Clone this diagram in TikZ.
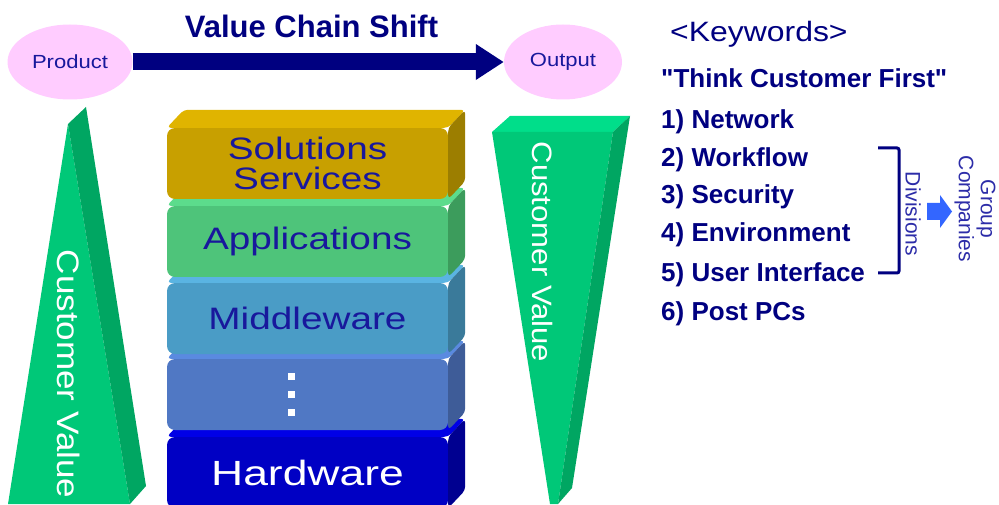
\documentclass[tikz,border=0pt]{standalone}
\usepackage{fontspec}
\setmainfont{Liberation Sans}[Ligatures=TeXOff]
\usetikzlibrary{shapes.geometric}
\usetikzlibrary{arrows.meta}
\usepackage{xcolor}

\definecolor{navy}{RGB}{0,0,128}
\definecolor{layertext}{RGB}{24,24,156}
\definecolor{sidetext}{RGB}{44,44,168}
\definecolor{bubblepink}{RGB}{255,204,255}
\definecolor{shiftblue}{RGB}{51,102,255}
\definecolor{cvfront}{RGB}{0,200,120}
\definecolor{cvtop}{RGB}{0,222,138}
\definecolor{cvside}{RGB}{0,166,98}
\definecolor{sol-front}{RGB}{200,160,0}
\definecolor{sol-top}{RGB}{224,180,0}
\definecolor{sol-side}{RGB}{156,126,0}
\definecolor{app-front}{RGB}{78,196,122}
\definecolor{app-top}{RGB}{92,220,140}
\definecolor{app-side}{RGB}{60,156,92}
\definecolor{mw-front}{RGB}{74,156,198}
\definecolor{mw-top}{RGB}{90,180,226}
\definecolor{mw-side}{RGB}{58,122,154}
\definecolor{dots-front}{RGB}{80,120,196}
\definecolor{dots-top}{RGB}{90,138,224}
\definecolor{dots-side}{RGB}{62,92,152}
\definecolor{hw-front}{RGB}{0,0,196}
\definecolor{hw-top}{RGB}{0,0,230}
\definecolor{hw-side}{RGB}{0,0,144}

\begin{document}
\begin{tikzpicture}[x=1pt, y=-1pt,
  layer/.style={rounded corners=8pt, minimum width=281pt, minimum height=71pt, inner sep=0pt, align=center, text=layertext,
    font=\fontsize{31}{30}\selectfont\addfontfeatures{FakeStretch=1.25}},
  bubble/.style={ellipse, fill=bubblepink, inner sep=0pt, text=layertext,
    font=\fontsize{19}{19}\selectfont\addfontfeatures{FakeStretch=1.16}},
  keyword/.style={anchor=base west, inner sep=0pt, text=navy, font=\fontsize{26}{26}\selectfont\bfseries},
  cvlabel/.style={rotate=-90, text=white, inner sep=0pt},
  sidelabel/.style={rotate=-90, text=sidetext, align=center, inner sep=0pt, font=\fontsize{21}{22}\selectfont}]
\useasboundingbox (0,0) rectangle (999,505);

%\draw[gray,very thin, step=50, opacity=0.5] (0,0) grid (999,505);

% value chain shift
\node[bubble, minimum width=125pt, minimum height=75pt] (product) at (70,62) {Product};
\node[bubble, minimum width=118pt, minimum height=75pt] (output) at (563,62) {Output};
\draw[navy, line width=17pt, -{Triangle[width=34pt,length=28pt]}] (product) -- (output);
\node (title) at (311.5,38) [anchor=base, text=navy, font=\fontsize{31}{31}\selectfont\bfseries] {Value Chain Shift};

% customer value, left
\fill[cvfront] (68,124) -- (8,504) -- (130,504) -- cycle;
\fill[cvside] (68,124) -- (86,107) -- (146,486) -- (130,504) -- cycle;
\node[cvlabel, font=\fontsize{31}{31}\selectfont\addfontfeatures{FakeStretch=1.13}] (cvleft) at (69,374) {Customer Value};

% customer value, right
\fill[cvtop] (492,132) -- (510,116) -- (630,116) -- (613,132) -- cycle;
\fill[cvfront] (492,132) -- (613,132) -- (558,504) -- (550,504) -- cycle;
\fill[cvside] (613,132) -- (630,116) -- (572,488) -- (558,504) -- cycle;
\node[cvlabel, font=\fontsize{28}{28}\selectfont\addfontfeatures{FakeStretch=1.11}] (cvright) at (543,252) {Customer Value};

% layers, bottom one first
\foreach \n/\yc in {hw/472.5, dots/394.5, mw/318.5, app/241.5, sol/163.5}{
  \node[layer, fill=\n-front] (\n) at (307.5,\yc) {};
  \fill[\n-top, rounded corners=4pt] (\n.north west) -- ++(17,-18) -- ([shift={(17,-18)}]\n.north east) -- (\n.north east) -- cycle;
  \fill[\n-side, rounded corners=4pt] (\n.north east) -- ++(17,-18) -- ([shift={(17,-18)}]\n.south east) -- (\n.south east) -- cycle;
}
\node[layer] (soltext) at (sol) {Solutions\\Services};
\node[layer] (apptext) at (app) {Applications};
\node[layer] (mwtext) at (mw) {Middleware};
\node[layer, text=white, font=\fontsize{35}{35}\selectfont\addfontfeatures{FakeStretch=1.27}] (hwtext) at (hw) {Hardware};
\foreach \y in {376.5, 394.5, 412.5}
  \fill[white] (288,\y-3.5) rectangle ++(7,7);

% keywords
\node (kw) at (670,42) [anchor=base west, inner sep=0pt, text=navy, font=\fontsize{28}{28}\selectfont\addfontfeatures{FakeStretch=1.14}] {<Keywords>};
\node[keyword] (motto) at (661,88) {"Think Customer First"};
\node[keyword] (k1) at (661,129) {1) Network};
\node[keyword] (k2) at (661,167) {2) Workflow};
\node[keyword] (k3) at (661,204) {3) Security};
\node[keyword] (k4) at (661,242) {4) Environment};
\node[keyword] (k5) at (661,281) {5) User Interface};
\node[keyword] (k6) at (661,320) {6) Post PCs};

\draw[navy, line width=3pt, rounded corners=2pt] (878,148) -- (899,148) -- (899,273) -- (878,273);
\node[sidelabel] (div) at (913,214) {Divisions};
\fill[shiftblue] (927,203) -- (940,203) -- (940,195) -- (952,211.5) -- (940,228) -- (940,220) -- (927,220) -- cycle;
\node[sidelabel] (group) at (975,209) {Group\\Companies};

\end{tikzpicture}
\end{document}
